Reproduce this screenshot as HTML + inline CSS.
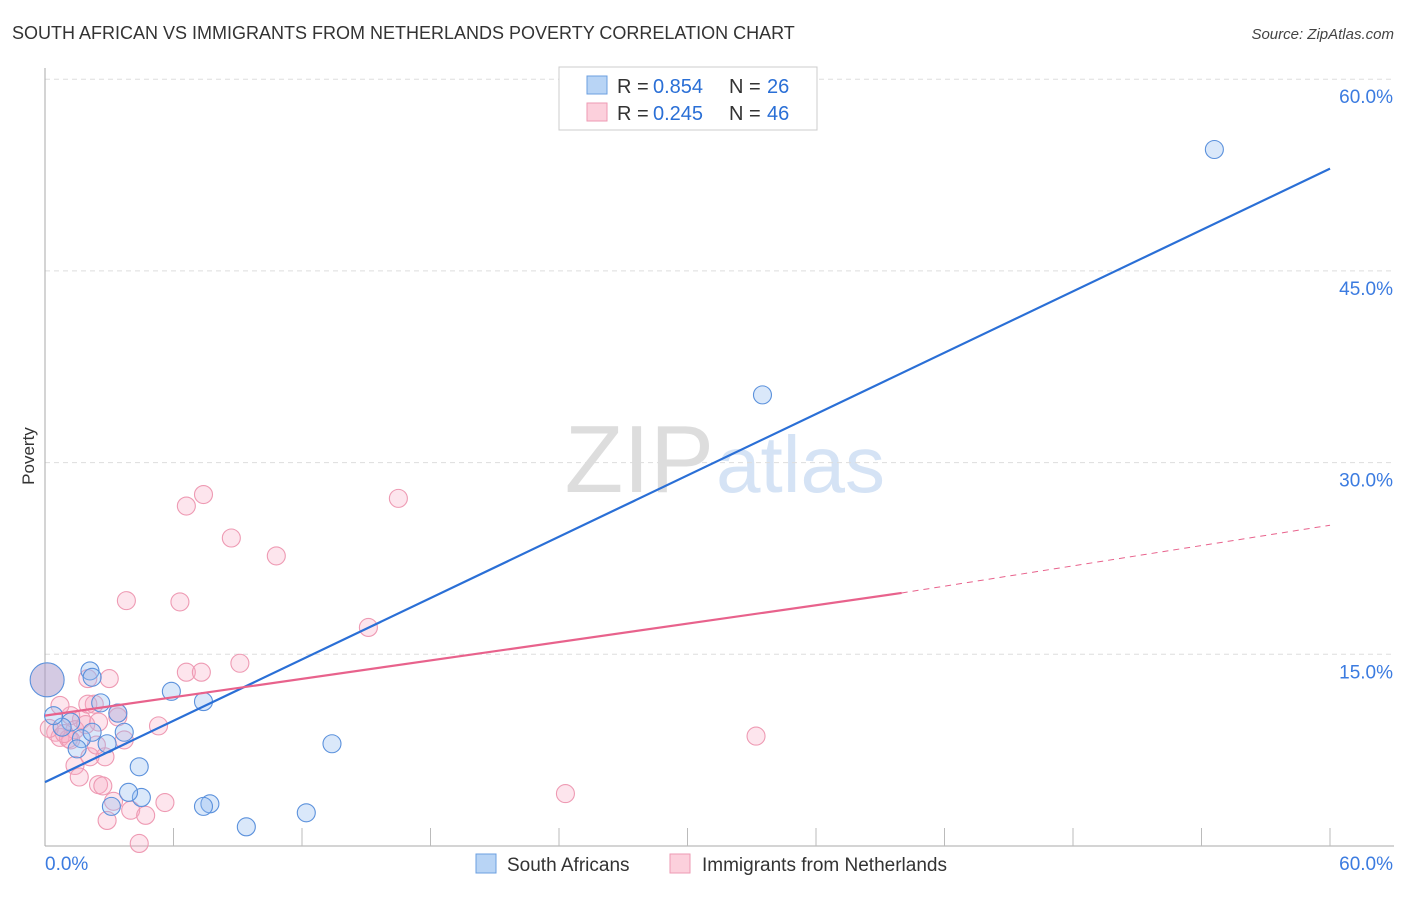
<!DOCTYPE html>
<html><head><meta charset="utf-8"><style>
body{margin:0;background:#fff;font-family:"Liberation Sans",sans-serif}
svg text{font-family:"Liberation Sans",sans-serif}
</style></head><body>
<svg id="chart" width="1406" height="892">
<text x="12" y="39" font-size="18" fill="#333">SOUTH AFRICAN VS IMMIGRANTS FROM NETHERLANDS POVERTY CORRELATION CHART</text>
<text x="1394" y="39" font-size="15" fill="#444" font-style="italic" text-anchor="end">Source: ZipAtlas.com</text>
<text x="34" y="456" font-size="17" fill="#333" transform="rotate(-90 34 456)" text-anchor="middle">Poverty</text>
<text x="714" y="492" font-size="96" fill="#ddd" text-anchor="end" font-family="Liberation Serif">ZIP</text>
<text x="716" y="492" font-size="80" fill="#d5e3f5">atlas</text>
<g id="grid"></g><g id="marks"></g>
<g>
<rect x="559" y="67" width="258" height="63" fill="#fff" stroke="#ccc"/>
<rect x="587" y="76" width="20" height="18" fill="#b8d4f5" stroke="#6b9fe0"/>
<rect x="587" y="103" width="20" height="18" fill="#fcd0dc" stroke="#ee9ab3"/>
<text x="617" y="93" font-size="20" fill="#333">R =</text><text x="653" y="93" font-size="20" fill="#2a6fd6">0.854</text>
<text x="729" y="93" font-size="20" fill="#333">N =</text><text x="767" y="93" font-size="20" fill="#2a6fd6">26</text>
<text x="617" y="120" font-size="20" fill="#333">R =</text><text x="653" y="120" font-size="20" fill="#2a6fd6">0.245</text>
<text x="729" y="120" font-size="20" fill="#333">N =</text><text x="767" y="120" font-size="20" fill="#2a6fd6">46</text>
</g>
<g>
<rect x="476" y="854" width="20" height="19" fill="#b8d4f5" stroke="#6b9fe0"/>
<text x="507" y="871" font-size="19" fill="#333">South Africans</text>
<rect x="670" y="854" width="20" height="19" fill="#fcd0dc" stroke="#ee9ab3"/>
<text x="702" y="871" font-size="19" fill="#333">Immigrants from Netherlands</text>
</g>
</svg>
<script>
const yTicks=[15,30,45,60];
const xTickLabels=["0.0%","60.0%"];
const blueX=[54.6,33.5,13.4,12.2,9.4,7.7,7.4,5.9,7.4,4.4,4.5,3.9,3.1,2.9,3.4,3.7,2.6,2.1,2.2,1.7,1.5,1.2,0.8,0.4,0.1,2.2];
const blueY=[54.5,35.3,8.0,2.6,1.5,3.3,3.1,12.1,11.3,6.2,3.8,4.2,3.1,8.0,10.4,8.9,11.2,13.7,13.2,8.4,7.6,9.7,9.3,10.2,13.0,8.9];
const pinkX=[7.4,6.6,16.5,8.7,10.8,3.8,6.3,15.1,9.1,6.6,7.3,3.0,2.0,33.2,24.3,2.3,3.4,5.3,2.5,1.7,1.2,0.7,0.5,0.7,1.1,1.4,1.9,2.8,2.1,1.4,1.6,2.5,2.7,3.2,2.9,4.0,4.7,5.6,4.4,3.7,1.2,0.2,2.0,2.4,0.9,3.4];
const pinkY=[27.5,26.6,27.2,24.1,22.7,19.2,19.1,17.1,14.3,13.6,13.6,13.1,13.1,8.6,4.1,11.1,10.4,9.4,9.7,9.9,10.2,11.0,8.9,8.5,8.4,9.1,9.5,6.98,6.98,6.3,5.4,4.8,4.7,3.5,2.0,2.8,2.4,3.4,0.2,8.3,8.3,9.2,11.1,7.9,8.8,10.1];
const blueBigIdx=24;
const blueFit=[5.0,53.0];
const pinkFit=[10.2,19.8,25.1];const pinkSolidEnd=40;
const X=v=>45+v*21.417, Y=v=>846-v*12.78;
const ns="http://www.w3.org/2000/svg";
function mk(t,a,p){const e=document.createElementNS(ns,t);for(const k in a)e.setAttribute(k,a[k]);p.appendChild(e);return e;}
const g=document.getElementById('grid'),m=document.getElementById('marks');
for(const t of yTicks){
 const l=mk('line',{x1:45,x2:1394,y1:Y(t),y2:Y(t),stroke:'#ddd','stroke-dasharray':'5,4'},g);
 
 
 const tx=mk('text',{x:1393,y:Y(t)+24,'font-size':19,fill:'#3b7be0','text-anchor':'end'},g);tx.textContent=t.toFixed(1)+'%';
 
 
}
mk('line',{x1:45,x2:45,y1:68,y2:846,stroke:'#aaa'},g);
mk('line',{x1:45,x2:1394,y1:846,y2:846,stroke:'#aaa'},g);
for(let i=1;i<=10;i++){mk('line',{x1:45+i*128.5,x2:45+i*128.5,y1:828,y2:846,stroke:'#bbb'},g);}
const xl0=mk('text',{x:45,y:870,'font-size':19,fill:'#3b7be0'},g);xl0.textContent=xTickLabels[0];


const xl1=mk('text',{x:1393,y:870,'font-size':19,fill:'#3b7be0','text-anchor':'end'},g);xl1.textContent=xTickLabels[1];


pinkX.forEach((x,i)=>{const c=mk('circle',{cx:X(x),cy:Y(pinkY[i]),r:9,fill:'rgba(248,170,195,0.3)',stroke:'#ee9ab3','stroke-width':1.1},m);
 
 });
blueX.forEach((x,i)=>{const c=mk('circle',{cx:X(x),cy:Y(blueY[i]),r:i===blueBigIdx?17:9,fill:i===blueBigIdx?'rgba(170,150,200,0.5)':'rgba(150,190,240,0.35)',stroke:'#5b91dc','stroke-width':1.1},m);
 
 });
const bl=mk('line',{x1:X(0),y1:Y(blueFit[0]),x2:X(60),y2:Y(blueFit[1]),stroke:'#2a6fd6','stroke-width':2.2},m);


const pl=mk('line',{x1:X(0),y1:Y(pinkFit[0]),x2:X(pinkSolidEnd),y2:Y(pinkFit[1]),stroke:'#e8628c','stroke-width':2.2},m);


const pd=mk('line',{x1:X(pinkSolidEnd),y1:Y(pinkFit[1]),x2:X(60),y2:Y(pinkFit[2]),stroke:'#e8628c','stroke-width':1,'stroke-dasharray':'6,5'},m);


</script>
</body></html>
